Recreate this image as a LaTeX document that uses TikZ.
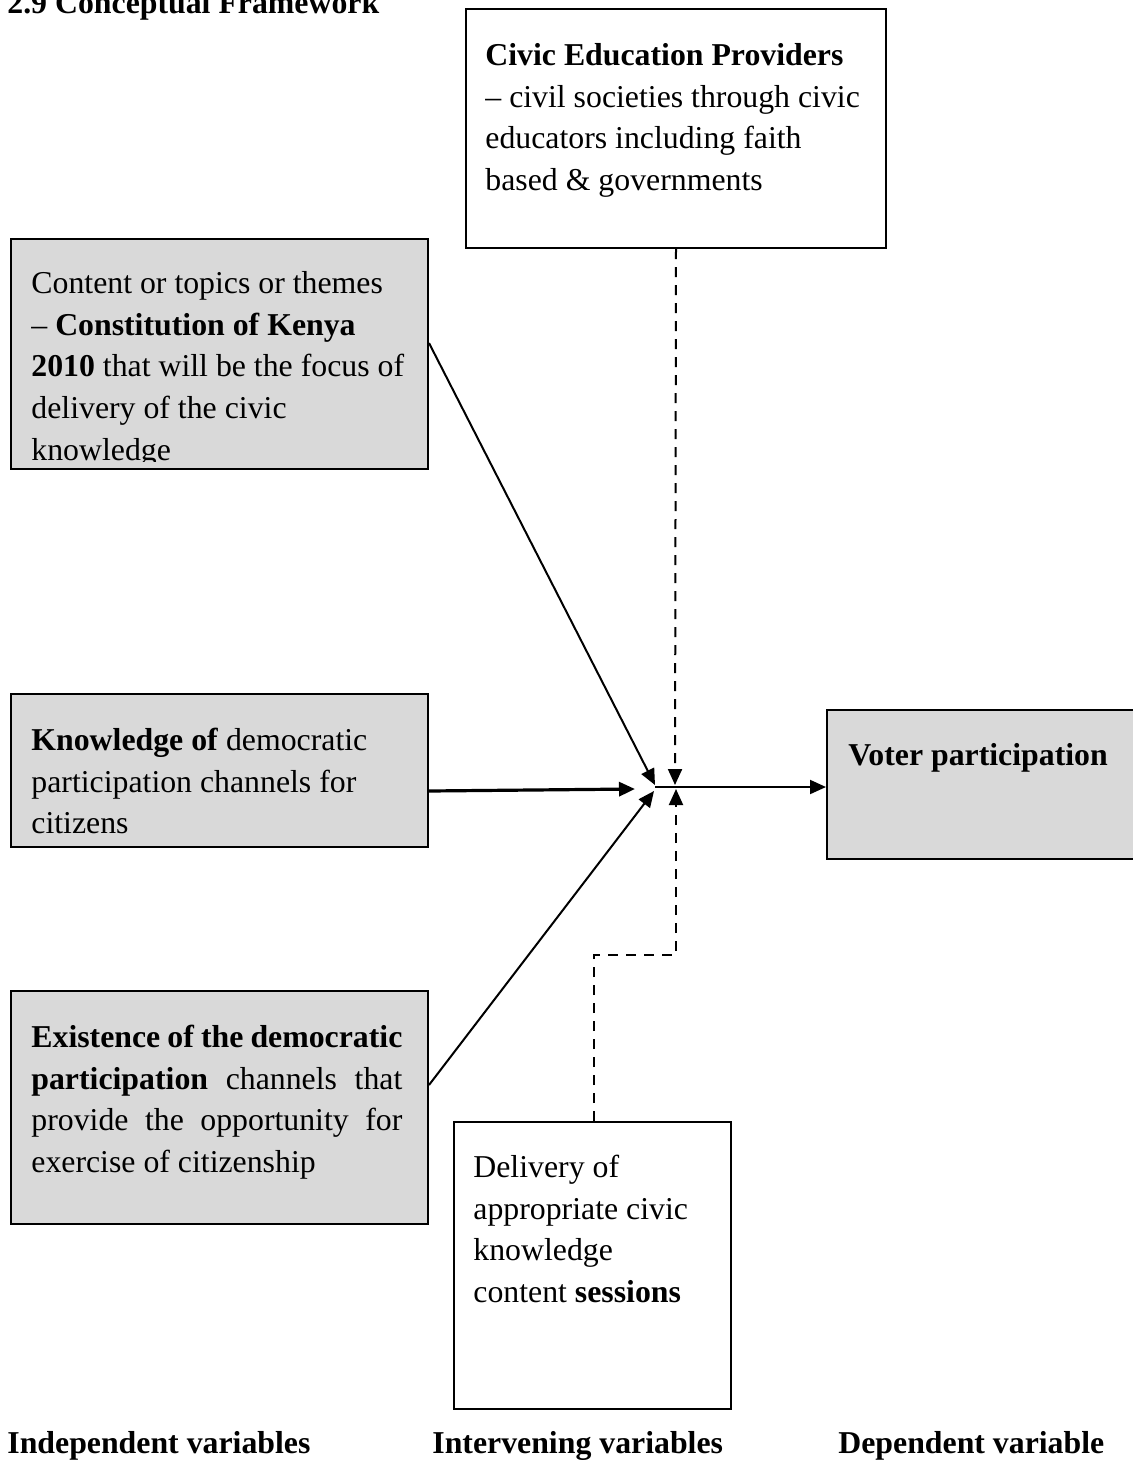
\documentclass[tikz,border=0pt]{standalone}
\usepackage{fontspec}
\setmainfont{Liberation Serif}
\usetikzlibrary{arrows.meta,calc}
\definecolor{boxgray}{HTML}{D9D9D9}
\begin{document}
\begin{tikzpicture}[x=0.5pt,y=-0.5pt,
  box/.style={draw=black, line width=1pt, anchor=north west, inner sep=0pt, rectangle},
  gbox/.style={box, fill=boxgray},
  wbox/.style={box, fill=white},
  txt/.style={anchor=north west, inner sep=0pt, align=flush left, text width=210pt, font=\fontsize{15.9}{20.85}\selectfont},
  lbl/.style={anchor=base west, inner sep=0pt, font=\fontsize{15.9}{20.85}\selectfont\bfseries},
  arr/.style={line width=1pt, -{Triangle[length=8pt,width=7pt]}},
  thickarr/.style={arr, line width=1.6pt},
  dasharr/.style={arr, dash pattern=on 5pt off 4pt}
]
\useasboundingbox (0,0) rectangle (1133,1463);

% title
\node[lbl] (title) at (7,13) {2.9 Conceptual Framework};

% boxes
\node[wbox, minimum width=210pt, minimum height=119.5pt] (cep) at (465,8) {};
\node[txt] (ceptxt) at (485,35.8) {\strut\textbf{Civic Education Providers}\\ – civil societies through civic\\ educators including faith\\ based \& governments};

\node[gbox, minimum width=208.5pt, minimum height=115pt] (content) at (10,238) {};
\begin{scope}
\clip (12,240) rectangle (425,461);
\node[txt] (contenttxt) at (31,263.8) {\strut Content or topics or themes\\ – \textbf{Constitution of Kenya}\\ \textbf{2010} that will be the focus of\\ delivery of the civic\\ knowledge};
\end{scope}

\node[gbox, minimum width=208.5pt, minimum height=76.5pt] (know) at (10,693) {};
\node[txt] (knowtxt) at (31,720.8) {\strut\textbf{Knowledge of} democratic\\ participation channels for\\ citizens};

\node[gbox, minimum width=208.5pt, minimum height=116.5pt] (exist) at (10,990) {};
\node[txt, align=justify, text width=185.5pt] (existtxt) at (31,1017.8) {\strut\textbf{Existence of the democratic}\linebreak \textbf{participation} channels that\linebreak provide the opportunity for\linebreak exercise of citizenship};

\node[wbox, minimum width=138.5pt, minimum height=143.5pt] (deliv) at (453,1121) {};
\node[txt] (delivtxt) at (473,1147.8) {\strut Delivery of\\ appropriate civic\\ knowledge\\ content \textbf{sessions}};

\node[gbox, minimum width=157pt, minimum height=74.5pt] (voter) at (826,709) {};
\node[txt] (votertxt) at (848,735.8) {\strut\textbf{Voter participation}};

% bottom labels
\node[lbl] (indep) at (7,1453) {Independent variables};
\node[lbl] (interv) at (432,1453) {Intervening variables};
\node[lbl] (dep) at (838,1453) {Dependent variable};

% convergence points
\coordinate (tipC) at (655,785);
\coordinate (tipK) at (635,789);
\coordinate (tipE) at (654,791);
\coordinate (tipT) at (675,785);
\coordinate (tipB) at (676,789);
\coordinate (hub) at (655,787);
\coordinate (bend) at (676,955);

% connectors
\draw[arr] ($(content.north east)+(0,105)$) -- (tipC);
\draw[thickarr] ($(know.north east)+(0,98)$) -- (tipK);
\draw[arr] ($(exist.north east)+(0,95)$) -- (tipE);
\draw[dasharr] (cep.south) -- (tipT);
\draw[dasharr] ($(deliv.north)+(1.5,0)$) |- (bend) -- (tipB);
\draw[arr] (hub) -- (hub -| voter.west);
\end{tikzpicture}
\end{document}
